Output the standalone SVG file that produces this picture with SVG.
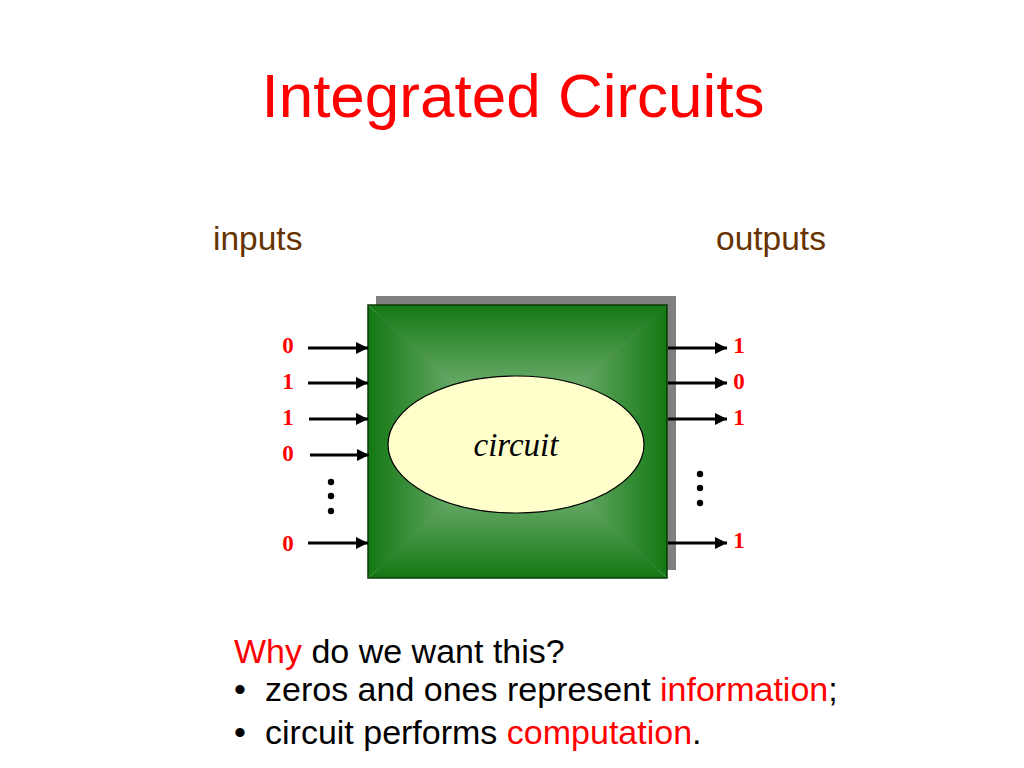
<svg xmlns="http://www.w3.org/2000/svg" width="1024" height="768" viewBox="0 0 1024 768">
<defs>
<style>
.sans{font-family:"Liberation Sans",Arial,sans-serif}
.bit{font-family:"Liberation Serif","Times New Roman",serif;font-weight:bold;font-size:23px;fill:#ff0000;text-anchor:middle}
.lab{font-family:"Liberation Sans",Arial,sans-serif;font-size:33.5px;fill:#663300}
.body{font-family:"Liberation Sans",Arial,sans-serif;font-size:34px;fill:#000}
.red{fill:#ff0000}
.wire{stroke:#000;stroke-width:3;fill:none;marker-end:url(#ah)}
</style>
<marker id="ah" viewBox="0 0 10 10" refX="10" refY="5" markerWidth="4" markerHeight="4" orient="auto" markerUnits="strokeWidth">
<path d="M0,0 L10,5 L0,10 z" fill="#000"/>
</marker>
<linearGradient id="gT" x1="0" y1="305" x2="0" y2="441" gradientUnits="userSpaceOnUse"><stop offset="0" stop-color="#127812"/><stop offset="1" stop-color="#a4cca4"/></linearGradient>
<linearGradient id="gB" x1="0" y1="578" x2="0" y2="441" gradientUnits="userSpaceOnUse"><stop offset="0" stop-color="#127812"/><stop offset="1" stop-color="#a4cca4"/></linearGradient>
<linearGradient id="gL" x1="368" y1="0" x2="517" y2="0" gradientUnits="userSpaceOnUse"><stop offset="0" stop-color="#127812"/><stop offset="1" stop-color="#a4cca4"/></linearGradient>
<linearGradient id="gR" x1="667" y1="0" x2="517" y2="0" gradientUnits="userSpaceOnUse"><stop offset="0" stop-color="#127812"/><stop offset="1" stop-color="#a4cca4"/></linearGradient>
</defs>
<rect width="1024" height="768" fill="#fff"/>
<text x="513" y="117" class="sans" font-size="62" fill="#ff0000" text-anchor="middle">Integrated Circuits</text>
<text x="213" y="250" class="lab">inputs</text>
<text x="716" y="250" class="lab">outputs</text>

<g id="circuit-box">
<rect x="376" y="296" width="300" height="274" fill="#808080"/>
<polygon points="368,305 667,305 517.5,441.5" fill="url(#gT)"/>
<polygon points="368,578 667,578 517.5,441.5" fill="url(#gB)"/>
<polygon points="368,305 368,578 517.5,441.5" fill="url(#gL)"/>
<polygon points="667,305 667,578 517.5,441.5" fill="url(#gR)"/>
<rect x="368" y="305" width="299" height="273" fill="none" stroke="#0a3a0a" stroke-width="1.5"/>
</g>
<g id="circuit">
<ellipse cx="516" cy="444.5" rx="128" ry="68.5" fill="#ffffcc" stroke="#000" stroke-width="1.2"/>
<text x="516" y="456" font-family="Liberation Serif,'Times New Roman',serif" font-style="italic" font-size="33" text-anchor="middle">circuit</text>
</g>

<g id="connectors">
<line x1="308" y1="348" x2="368" y2="348" class="wire"/>
<line x1="308" y1="383" x2="368" y2="383" class="wire"/>
<line x1="309" y1="419" x2="368" y2="419" class="wire"/>
<line x1="310" y1="455" x2="369" y2="455" class="wire"/>
<line x1="308" y1="543" x2="368" y2="543" class="wire"/>
<line x1="668" y1="348" x2="727" y2="348" class="wire"/>
<line x1="668" y1="383" x2="727" y2="383" class="wire"/>
<line x1="668" y1="419" x2="727" y2="419" class="wire"/>
<line x1="668" y1="543" x2="727" y2="543" class="wire"/>
</g>

<g id="input-bits">
<text x="288" y="353" class="bit">0</text>
<text x="288" y="389" class="bit">1</text>
<text x="288" y="425" class="bit">1</text>
<text x="288" y="461" class="bit">0</text>
<text x="288" y="551" class="bit">0</text>
<circle cx="331" cy="482" r="3.2"/>
<circle cx="331" cy="496" r="3.2"/>
<circle cx="331" cy="511" r="3.2"/>
</g>
<g id="output-bits">
<text x="739" y="353" class="bit">1</text>
<text x="739" y="389" class="bit">0</text>
<text x="739" y="425" class="bit">1</text>
<text x="739" y="548" class="bit">1</text>
<circle cx="700" cy="474" r="3.2"/>
<circle cx="700" cy="488" r="3.2"/>
<circle cx="700" cy="503" r="3.2"/>
</g>

<text x="234" y="663" class="body"><tspan class="red">Why</tspan> do we want this?</text>
<text y="701" class="body"><tspan x="234">•</tspan><tspan x="265">zeros and ones represent </tspan><tspan class="red">information</tspan>;</text>
<text y="744" class="body"><tspan x="234">•</tspan><tspan x="265">circuit performs </tspan><tspan class="red">computation</tspan>.</text>
</svg>
